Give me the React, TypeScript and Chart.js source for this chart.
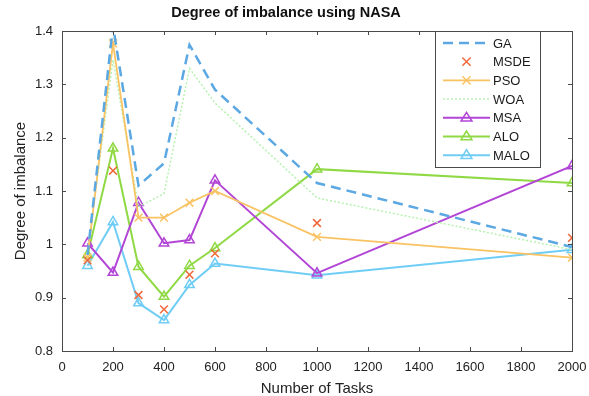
import React, { useEffect, useRef } from "react";
import { Chart, registerables } from "chart.js";

Chart.register(...registerables);

const tasks = [100, 200, 300, 400, 500, 600, 1000, 2000];
const gaValues = [0.98, 1.41, 1.11, 1.152, 1.374, 1.29, 1.115, 0.995];
const msdeValues = [0.97, 1.138, 0.905, 0.878, 0.943, 0.983, 1.04, 1.012];
const psoValues = [0.975, 1.377, 1.05, 1.05, 1.078, 1.1, 1.014, 0.975];
const woaValues = [0.985, 1.346, 1.07, 1.095, 1.33, 1.265, 1.087, 0.99];
const msaValues = [1.002, 0.947, 1.078, 1.002, 1.008, 1.12, 0.946, 1.147];
const aloValues = [0.98, 1.18, 0.958, 0.902, 0.96, 0.993, 1.141, 1.115];
const maloValues = [0.96, 1.042, 0.89, 0.858, 0.924, 0.964, 0.942, 0.99];

const xTicks = [0, 200, 400, 600, 800, 1000, 1200, 1400, 1600, 1800, 2000];
const yTicks = [0.8, 0.9, 1.0, 1.1, 1.2, 1.3, 1.4];

const FONT = "'Liberation Sans', Arial, sans-serif";

const toPts = (vals: number[]) => tasks.map((x, i) => ({ x, y: vals[i] }));

function drawMarker(ctx: CanvasRenderingContext2D, style: string, r: number, x: number, y: number) {
  ctx.beginPath();
  if (style === "triangle") {
    const h = r * 1.5;
    ctx.moveTo(x, y - r);
    ctx.lineTo(x + h * 0.577 * 1.15, y + r * 0.6);
    ctx.lineTo(x - h * 0.577 * 1.15, y + r * 0.6);
    ctx.closePath();
  } else if (style === "crossRot") {
    const d = r * 0.75;
    ctx.moveTo(x - d, y - d);
    ctx.lineTo(x + d, y + d);
    ctx.moveTo(x + d, y - d);
    ctx.lineTo(x - d, y + d);
  }
  ctx.stroke();
}

const boxPlugin = {
  id: "boxTicks",
  afterDatasetsDraw(chart: any) {
    const { ctx, chartArea: a, scales } = chart;
    ctx.save();
    ctx.strokeStyle = "#4a4a4a";
    ctx.lineWidth = 1;
    ctx.strokeRect(a.left + 0.5, a.top + 0.5, a.right - a.left, a.bottom - a.top);
    const tl = 4;
    ctx.beginPath();
    xTicks.forEach((t) => {
      const px = Math.round(scales.x.getPixelForValue(t)) + 0.5;
      ctx.moveTo(px, a.bottom);
      ctx.lineTo(px, a.bottom - tl);
      ctx.moveTo(px, a.top);
      ctx.lineTo(px, a.top + tl);
    });
    yTicks.forEach((t) => {
      const py = Math.round(scales.y.getPixelForValue(t)) + 0.5;
      ctx.moveTo(a.left, py);
      ctx.lineTo(a.left + tl, py);
      ctx.moveTo(a.right, py);
      ctx.lineTo(a.right - tl, py);
    });
    ctx.stroke();

    // legend box inside plot (top-right)
    const bx = a.right - 137;
    const by = a.top;
    const bw = 105;
    const bh = 136;
    ctx.fillStyle = "#ffffff";
    ctx.fillRect(bx, by, bw, bh);
    ctx.strokeStyle = "#4a4a4a";
    ctx.strokeRect(bx + 0.5, by + 0.5, bw, bh);
    chart.data.datasets.forEach((ds: any, i: number) => {
      const y = by + 12 + i * 18.7;
      const x0 = bx + 8;
      const x1 = bx + 55;
      if (ds.showLine !== false) {
        ctx.save();
        ctx.strokeStyle = ds.borderColor;
        ctx.lineWidth = ds.borderWidth;
        ctx.setLineDash(ds.borderDash || []);
        ctx.beginPath();
        ctx.moveTo(x0, y);
        ctx.lineTo(x1, y);
        ctx.stroke();
        ctx.restore();
      }
      if (ds.pointRadius > 0) {
        ctx.save();
        ctx.strokeStyle = ds.pointBorderColor || ds.borderColor;
        ctx.lineWidth = ds.pointBorderWidth || 1.5;
        drawMarker(ctx, ds.pointStyle, ds.pointRadius, (x0 + x1) / 2, y);
        ctx.restore();
      }
      ctx.fillStyle = "#1a1a1a";
      ctx.font = `13px ${FONT}`;
      ctx.textBaseline = "middle";
      ctx.textAlign = "left";
      ctx.fillText(ds.label, x1 + 3, y + 1);
    });
    ctx.restore();
  },
};

export default function App() {
  const ref = useRef<HTMLCanvasElement | null>(null);
  useEffect(() => {
    if (!ref.current) return;
    const tri = (label: string, vals: number[], color: string) => ({
      label,
      data: toPts(vals),
      borderColor: color,
      backgroundColor: color,
      borderWidth: 2,
      pointStyle: "triangle",
      pointRadius: 5.5,
      pointBorderWidth: 1.5,
      pointBorderColor: color,
      pointBackgroundColor: "rgba(255,255,255,0)",
      tension: 0,
    });
    const chart = new Chart(ref.current, {
      type: "line",
      data: {
        datasets: [
          {
            label: "GA",
            data: toPts(gaValues),
            borderColor: "#5ba8e2",
            backgroundColor: "#5ba8e2",
            borderWidth: 2.5,
            borderDash: [10, 6],
            pointRadius: 0,
            tension: 0,
          },
          {
            label: "MSDE",
            data: toPts(msdeValues),
            showLine: false,
            borderColor: "#f0683c",
            backgroundColor: "#f0683c",
            borderWidth: 1.5,
            pointStyle: "crossRot",
            pointRadius: 5.5,
            pointBorderWidth: 1.5,
            pointBorderColor: "#f0683c",
          },
          {
            label: "PSO",
            data: toPts(psoValues),
            borderColor: "#f9c263",
            backgroundColor: "#f9c263",
            borderWidth: 1.8,
            pointStyle: "crossRot",
            pointRadius: 5.5,
            pointBorderWidth: 1.5,
            pointBorderColor: "#f9c263",
            tension: 0,
          },
          {
            label: "WOA",
            data: toPts(woaValues),
            borderColor: "#b6f2b0",
            backgroundColor: "#b6f2b0",
            borderWidth: 1.5,
            borderDash: [2, 2],
            pointRadius: 0,
            tension: 0,
          },
          tri("MSA", msaValues, "#b245d6"),
          tri("ALO", aloValues, "#8fd944"),
          tri("MALO", maloValues, "#6fcdf5"),
        ],
      },
      options: {
        responsive: false,
        animation: false,
        layout: { padding: { left: 0, right: 17, top: 0, bottom: 0 } },
        plugins: {
          legend: { display: false },
          tooltip: { enabled: false },
          title: {
            display: true,
            text: "Degree of imbalance using NASA",
            color: "#111",
            font: { family: FONT, size: 14.5, weight: "bold" },
            padding: { top: 4, bottom: 9.6 },
          },
        },
        scales: {
          x: {
            type: "linear",
            min: 0,
            max: 2000,
            afterBuildTicks: (s: any) => {
              s.ticks = xTicks.map((v) => ({ value: v }));
            },
            afterFit: (s: any) => {
              s.height = 45;
              s.paddingLeft = 0;
              s.paddingRight = 0;
            },
            grid: { display: false, drawTicks: false },
            border: { display: false },
            ticks: {
              color: "#222",
              font: { family: FONT, size: 13 },
              padding: 9,
              maxRotation: 0,
              callback: (v: any) => String(v),
            },
            title: {
              display: true,
              text: "Number of Tasks",
              color: "#222",
              font: { family: FONT, size: 15 },
              padding: { top: 2, bottom: -2 },
            },
          },
          y: {
            type: "linear",
            min: 0.8,
            max: 1.4,
            afterBuildTicks: (s: any) => {
              s.ticks = yTicks.map((v) => ({ value: v }));
            },
            afterFit: (s: any) => {
              s.width = 62;
            },
            grid: { display: false, drawTicks: false },
            border: { display: false },
            ticks: {
              color: "#222",
              font: { family: FONT, size: 13 },
              padding: 9,
              callback: (v: any) => String(Number(Number(v).toFixed(1))),
            },
            title: {
              display: true,
              text: "Degree of imbalance",
              color: "#222",
              font: { family: FONT, size: 15 },
              padding: { top: 12, bottom: 0 },
            },
          },
        },
      },
      plugins: [boxPlugin],
    } as any);
    return () => chart.destroy();
  }, []);
  return (
    <div style={{ position: "absolute", left: 0, top: 0, width: 589, height: 396, background: "#fff" }}>
      <canvas ref={ref} width={589} height={396} style={{ display: "block" }} />
    </div>
  );
}
